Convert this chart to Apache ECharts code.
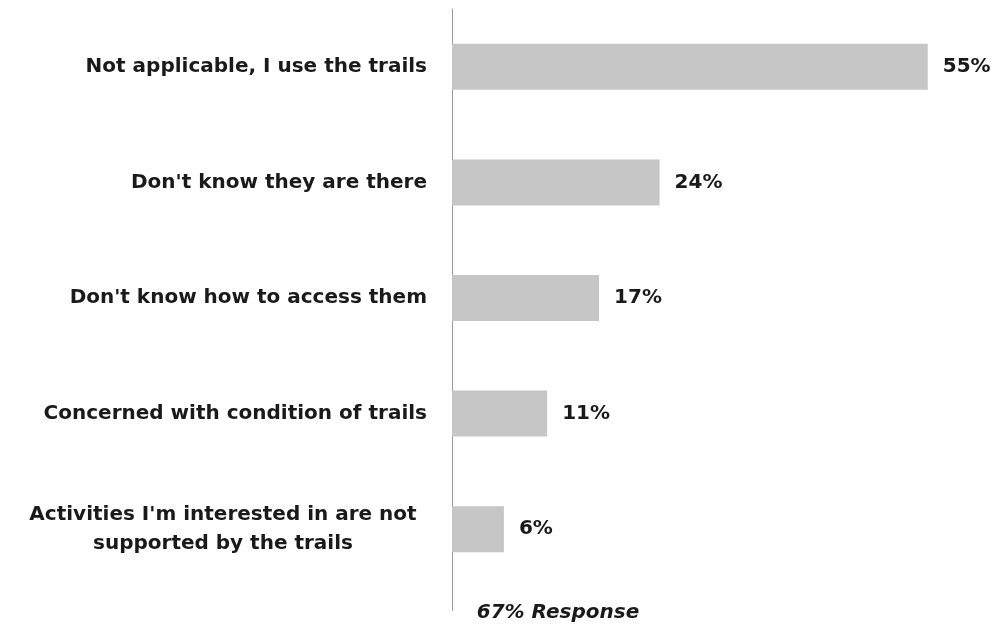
<!DOCTYPE html>
<html><head><meta charset="utf-8">
<script src="https://cdn.jsdelivr.net/npm/echarts@6/dist/echarts.min.js"></script>
<style>html,body{margin:0;padding:0;background:#fff}#c{width:998px;height:630px}</style>
</head><body><div id="c"></div>
<script>
const categories = [
  "Not applicable, I use the trails",
  "Don't know they are there",
  "Don't know how to access them",
  "Concerned with condition of trails",
  "Activities I'm interested in are not\nsupported by the trails"
];
const values = [55, 24, 17, 11, 6];
const footnote = "67% Response";

const FONT = "DejaVu Sans";
const chart = echarts.init(document.getElementById('c'));
chart.setOption({
  backgroundColor: '#ffffff',
  animation: false,
  grid: { left: 452, right: 27, top: 9, height: 578, containLabel: false },
  xAxis: { type: 'value', min: 0, max: 60, show: false },
  yAxis: {
    type: 'category', inverse: true, data: categories,
    axisLine: { show: true, lineStyle: { color: '#9a9a9a', width: 1 } },
    axisTick: { show: false },
    axisLabel: {
      margin: 25, color: '#1a1a1a', fontFamily: FONT, fontSize: 20, fontWeight: 'bold',
      formatter: function (v) {
        if (v.indexOf('\n') >= 0) {
          return v.split('\n').map(function (l) { return '{c|' + l + '}'; }).join('\n');
        }
        return v;
      },
      rich: { c: { width: 408, align: 'center', fontFamily: FONT, fontSize: 20, fontWeight: 'bold', color: '#1a1a1a', lineHeight: 29 } }
    }
  },
  series: [{
    type: 'bar', data: values, barWidth: 46,
    itemStyle: { color: '#c6c6c6' },
    label: { show: true, position: 'right', distance: 15, formatter: '{c}%',
      color: '#1a1a1a', fontFamily: FONT, fontSize: 20, fontWeight: 'bold' }
  }],
  graphic: [
    { type: 'line', shape: { x1: 452.5, y1: 587, x2: 452.5, y2: 611 }, style: { stroke: '#9a9a9a', lineWidth: 1 } },
    { type: 'text', x: 558, y: 613, style: { text: footnote, fill: '#1a1a1a', font: 'italic bold 20px "DejaVu Sans"', textAlign: 'center', textVerticalAlign: 'middle' } }
  ]
});
</script></body></html>
